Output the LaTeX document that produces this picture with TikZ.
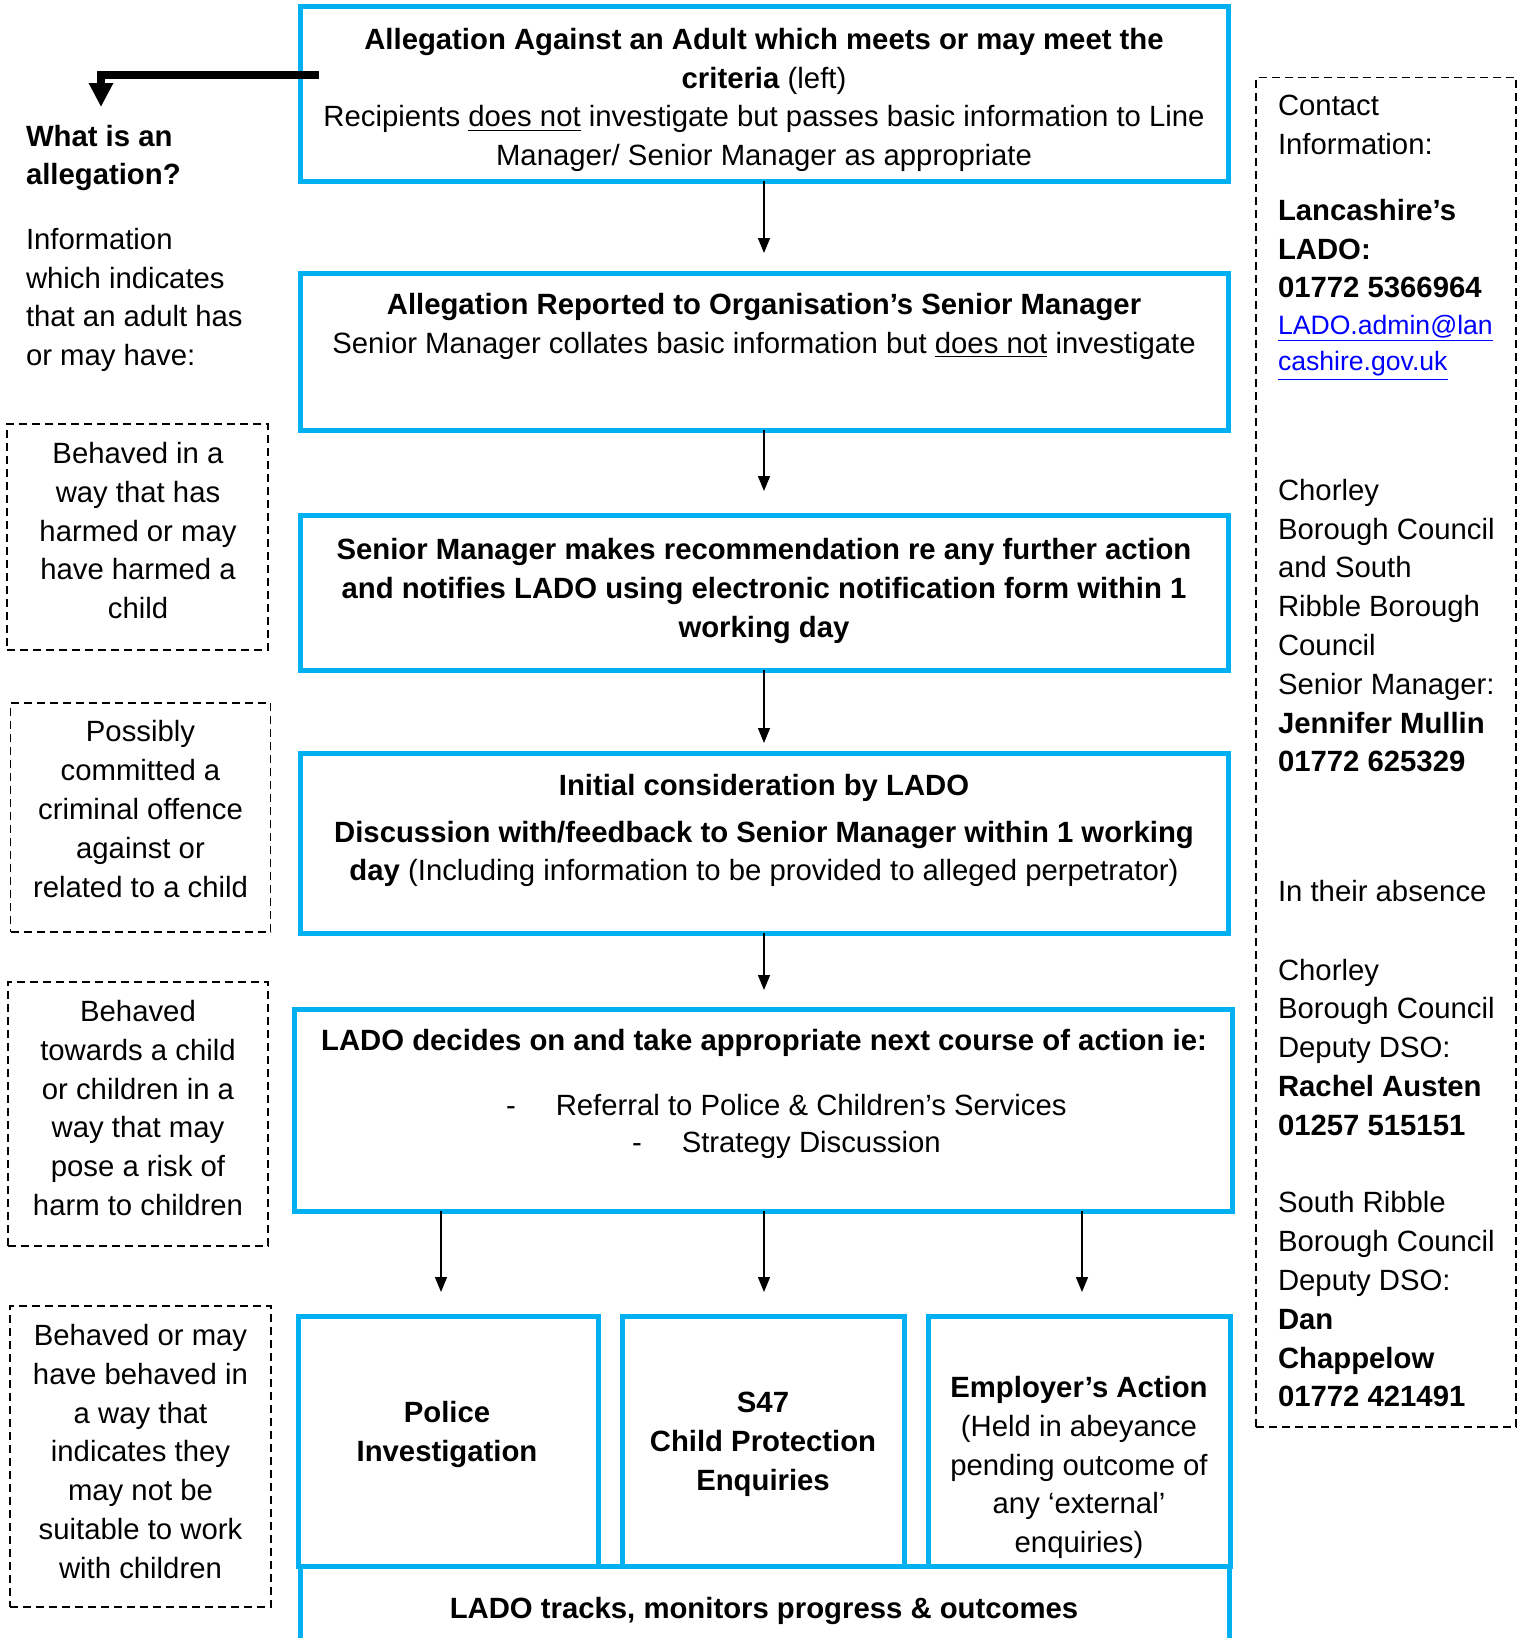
\documentclass[tikz,border=0pt]{standalone}
\usepackage{fontspec}
\setmainfont{Liberation Sans}
\usepackage{tikz}
\usetikzlibrary{arrows.meta}
\definecolor{ladoblue}{RGB}{0,176,240}
\definecolor{linkblue}{RGB}{0,0,255}

\begin{document}
\begin{tikzpicture}[x=0.5pt, y=-0.5pt,
  every node/.style={inner sep=0pt, outer sep=0pt, font=\fontsize{14.65pt}{19.4pt}\selectfont},
  bluebox/.style={draw=ladoblue, line width=2.5pt},
  dashbox/.style={draw=black, line width=0.85pt, dash pattern=on 4pt off 2.5pt},
  txt/.style={align=center},
  side/.style={align=left, anchor=west},
  flow/.style={-{Triangle[width=6pt,length=7.5pt]}, line width=0.75pt},
  bigarrow/.style={-{Triangle[width=11.5pt,length=12pt]}, line width=4pt}]
  \useasboundingbox (0,0) rectangle (1523,1638);

  \node[bluebox, minimum width=464pt, minimum height=87.25pt] (meets) at (764,93.75) {};
  \node[bluebox, minimum width=464pt, minimum height=78.5pt] (reported) at (764,351.5) {};
  \node[bluebox, minimum width=464pt, minimum height=77.5pt] (recommend) at (764,592.5) {};
  \node[bluebox, minimum width=464pt, minimum height=90pt] (initial) at (764,843) {};
  \node[bluebox, minimum width=469pt, minimum height=101pt] (decides) at (763,1110) {};
  \node[bluebox, minimum width=150pt, minimum height=125pt] (police) at (448,1441) {};
  \node[bluebox, minimum width=141.25pt, minimum height=125pt] (sfortyseven) at (763.25,1441) {};
  \node[bluebox, minimum width=151pt, minimum height=125pt] (employer) at (1079,1441) {};
  \node[bluebox, minimum width=464.5pt, minimum height=67pt] (tracks) at (764.5,1633) {};

  \node[txt] (meetstext) at (764,100) {\textbf{Allegation Against an Adult which meets or may meet the}\\
    \textbf{criteria} (left)\\
    Recipients \underline{does not} investigate but passes basic information to Line\\
    Manager/ Senior Manager as appropriate};
  \node[txt] (reportedtext) at (764,326.5) {\textbf{Allegation Reported to Organisation’s Senior Manager}\\
    Senior Manager collates basic information but \underline{does not} investigate};
  \node[txt, font=\fontsize{14.65pt}{19.4pt}\selectfont\bfseries] (recommendtext) at (764,591) {Senior Manager makes recommendation re any further action\\
    and notifies LADO using electronic notification form within 1\\
    working day};
  \node[txt] (initialhead) at (764,787.5) {\textbf{Initial consideration by LADO}};
  \node[txt] (initialtext) at (764,854) {\textbf{Discussion with/feedback to Senior Manager within 1 working}\\
    \textbf{day} (Including information to be provided to alleged perpetrator)};
  \node[txt] (decideshead) at (764,1042.5) {\textbf{LADO decides on and take appropriate next course of action ie:}};
  \node[anchor=west] (referral) at (506,1105.5) {-\hspace{20pt}Referral to Police \& Children’s Services};
  \node[anchor=west] (strategy) at (632,1145) {-\hspace{20pt}Strategy Discussion};
  \node[txt, font=\fontsize{14.65pt}{19.4pt}\selectfont\bfseries] (policetext) at (447,1434.5) {Police\\Investigation};
  \node[txt, font=\fontsize{14.65pt}{19.4pt}\selectfont\bfseries] (sfortyseventext) at (763,1444) {S47\\Child Protection\\Enquiries};
  \node[txt] (employertext) at (1079,1467.5) {\textbf{Employer’s Action}\\(Held in abeyance\\pending outcome of\\any ‘external’\\enquiries)};
  \node[txt] (trackstext) at (764,1610.5) {\textbf{LADO tracks, monitors progress \& outcomes}};

  \coordinate (reportedtip) at (764,253);
  \coordinate (recommendtip) at (764,491);
  \coordinate (initialtip) at (764,743);
  \coordinate (decidestip) at (764,990);
  \coordinate (policetip) at (441,1292);
  \coordinate (sfortyseventip) at (764,1292);
  \coordinate (employertip) at (1082,1292);
  \draw[flow] (meets) -- (reportedtip);
  \draw[flow] (reported) -- (recommendtip);
  \draw[flow] (recommend) -- (initialtip);
  \draw[flow] (initial) -- (decidestip);
  \draw[flow] (decides.south -| policetip) -- (policetip);
  \draw[flow] (decides.south -| sfortyseventip) -- (sfortyseventip);
  \draw[flow] (decides.south -| employertip) -- (employertip);

  \coordinate (elbowstart) at (319,75);
  \coordinate (whatistip) at (101,107);
  \draw[bigarrow] (elbowstart) -| (whatistip);

  \node[side, font=\fontsize{14.65pt}{19.4pt}\selectfont\bfseries] (whatis) at (26,158) {What is an\\allegation?};
  \node[side] (information) at (26,300) {Information\\which indicates\\that an adult has\\or may have:};

  \node[dashbox, minimum width=130.5pt, minimum height=113pt] (harmed) at (137.5,537) {};
  \node[dashbox, minimum width=130pt, minimum height=114.5pt] (criminal) at (140.5,817.5) {};
  \node[dashbox, minimum width=130pt, minimum height=132pt] (risk) at (138,1114) {};
  \node[dashbox, minimum width=130.5pt, minimum height=150.5pt] (suitable) at (140.5,1456.5) {};
  \node[txt] (harmedtext) at (138,530.7) {Behaved in a\\way that has\\harmed or may\\have harmed a\\child};
  \node[txt] (criminaltext) at (140.5,809) {Possibly\\committed a\\criminal offence\\against or\\related to a child};
  \node[txt] (risktext) at (138,1108) {Behaved\\towards a child\\or children in a\\way that may\\pose a risk of\\harm to children};
  \node[txt] (suitabletext) at (140.5,1451.5) {Behaved or may\\have behaved in\\a way that\\indicates they\\may not be\\suitable to work\\with children};

  \node[dashbox, minimum width=130pt, minimum height=674.75pt] (contact) at (1386,752.25) {};
  \node[side] (contacthead) at (1278,124.8) {Contact\\Information:};
  \node[side, font=\fontsize{14.65pt}{19.4pt}\selectfont\bfseries] (lado) at (1278,248.6) {Lancashire’s\\LADO:\\01772 5366964};
  \node[side, text=linkblue, font=\fontsize{13.3pt}{18.3pt}\selectfont] (ladomail) at (1278,347.5) {\underline{LADO.admin@lan}\\\underline{cashire.gov.uk}};
  \node[side] (chorley) at (1278,625.7) {Chorley\\Borough Council\\and South\\Ribble Borough\\Council\\Senior Manager:\\\textbf{Jennifer Mullin}\\\textbf{01772 625329}};
  \node[side] (absence) at (1278,891) {In their absence};
  \node[side] (chorleydso) at (1278,1047.2) {Chorley\\Borough Council\\Deputy DSO:\\\textbf{Rachel Austen}\\\textbf{01257 515151}};
  \node[side] (ribbledso) at (1278,1299.5) {South Ribble\\Borough Council\\Deputy DSO:\\\textbf{Dan}\\\textbf{Chappelow}\\\textbf{01772 421491}};
\end{tikzpicture}
\end{document}
